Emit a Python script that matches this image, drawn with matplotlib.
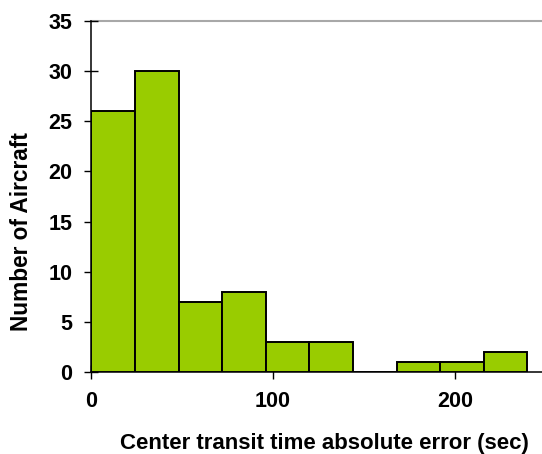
import matplotlib
matplotlib.use("Agg")
import matplotlib.pyplot as plt

bin_edges = [0, 24, 48, 72, 96, 120, 144, 168, 192, 216, 240]
counts = [26, 30, 7, 8, 3, 3, 0, 1, 1, 2]
x_ticks = [0, 100, 200]
y_ticks = [0, 5, 10, 15, 20, 25, 30, 35]

plt.rcParams['font.family'] = ['Liberation Sans', 'DejaVu Sans']
plt.rcParams['font.weight'] = 'bold'

W, H = 542, 454
fig = plt.figure(figsize=(W/100, H/100), dpi=100)
left, right, top, bottom = 91.3, 542, 20.7, 372.3
ax = fig.add_axes([left/W, 1-bottom/H, (right-left)/W, (bottom-top)/H])

widths = [bin_edges[i+1]-bin_edges[i] for i in range(len(counts))]
ax.bar(bin_edges[:-1], counts, width=widths, align='edge', color='#99CC00',
       edgecolor='black', linewidth=1.4, zorder=3)

ax.set_xlim(0, 248)
ax.set_ylim(0, 35)
ax.set_xticks(x_ticks)
ax.set_yticks(y_ticks)
ax.axhline(35, color='#a8a8a8', linewidth=1.5, zorder=1, clip_on=False)

for s in ['top', 'right']:
    ax.spines[s].set_visible(False)
ax.spines['left'].set_linewidth(1.1)
ax.spines['bottom'].set_linewidth(1.1)
ax.spines['left'].set_zorder(4)
ax.tick_params(axis='both', direction='inout', length=10.1, width=1.0,
               labelsize=15.5, pad=8.4)
for lab in ax.get_xticklabels() + ax.get_yticklabels():
    lab.set_fontweight('bold')

fig.text(324/W, 1-449/H, 'Center transit time absolute error (sec)', ha='center', va='baseline',
         fontsize=16, fontweight='bold')
fig.text(22/W, 1-232/H, 'Number of Aircraft', ha='center', va='center', rotation=90,
         rotation_mode='anchor', fontsize=16.3, fontweight='bold')

fig.savefig('out.png', dpi=100)
